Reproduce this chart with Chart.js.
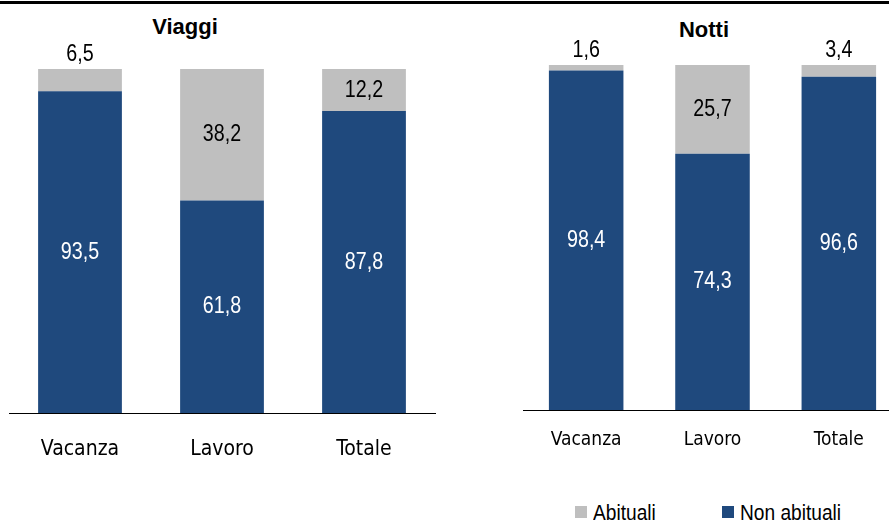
<!DOCTYPE html>
<html lang="it">
<head>
<meta charset="utf-8">
<title>Viaggi e notti</title>
<script src="https://cdn.jsdelivr.net/npm/chart.js@4"></script>
<style>
  html, body { margin: 0; padding: 0; background: #fff; overflow: hidden; }
  body { width: 889px; height: 523px; position: relative; }
  .topline { position: absolute; left: 0; top: 1px; width: 889px; height: 3px; background: #000; }
  .title {
    position: absolute; transform: translateX(-50%);
    font: bold 22px "Liberation Sans", Arial, sans-serif; line-height: 22px; color: #000;
  }
  #boxViaggi { position: absolute; left: 0; top: 0; width: 445px; height: 480px; }
  #boxNotti { position: absolute; left: 440px; top: 0; width: 470px; height: 480px; }
  #legend {
    position: absolute; left: 575px; top: 502px; height: 22px; display: flex;
    font: 22px "Liberation Sans", Arial, sans-serif; line-height: 22px; color: #000;
  }
  #legend .item { display: flex; align-items: flex-start; }
  #legend .item:first-child { width: 147px; }
  #legend .sq { width: 12px; height: 12px; margin-top: 4px; margin-right: 6px; flex: none; }
  #legend .txt { display: inline-block; transform: scaleX(0.87); transform-origin: left center; white-space: nowrap; }
</style>
</head>
<body>
<div class="topline"></div>
<div class="title" style="left:185px; top:16px;">Viaggi</div>
<div class="title" style="left:704px; top:19px;">Notti</div>
<div id="boxViaggi"><canvas id="chartViaggi"></canvas></div>
<div id="boxNotti"><canvas id="chartNotti"></canvas></div>
<div id="legend"></div>

<script>
// dati (valori percentuali)
const categories = ['Vacanza', 'Lavoro', 'Totale'];
const viaggiAbituali = [6.5, 38.2, 12.2];
const viaggiNonAbituali = [93.5, 61.8, 87.8];
const nottiAbituali = [1.6, 25.7, 3.4];
const nottiNonAbituali = [98.4, 74.3, 96.6];

const BLUE = '#1F497D';
const GREY = '#BFBFBF';
const CONDENSED = '"DejaVu Sans Condensed", "Liberation Sans Narrow", sans-serif';
const SQUEEZE = 0.82; // Arial "narrow" simulato

Chart.defaults.font.family = CONDENSED;
Chart.defaults.color = '#000';

// etichette dei valori dentro (o sopra) i segmenti
const valueLabels = {
    id: 'valueLabels',
    afterDatasetsDraw(chart) {
        const ctx = chart.ctx;
        ctx.save();
        ctx.font = '24px "Liberation Sans", Arial, sans-serif';
        ctx.textAlign = 'center';
        ctx.textBaseline = 'middle';
        ctx.scale(SQUEEZE, 1);
        chart.data.datasets.forEach((ds, i) => {
            const meta = chart.getDatasetMeta(i);
            meta.data.forEach((bar, j) => {
                const txt = ds.data[j].toFixed(1).replace('.', ',');
                const h = Math.abs(bar.base - bar.y);
                let y;
                if (h < 30) {
                    ctx.fillStyle = '#000';
                    y = Math.min(bar.y, bar.base) - 15;
                } else {
                    ctx.fillStyle = ds.labelColor;
                    y = (bar.y + bar.base) / 2;
                }
                ctx.fillText(txt, bar.x / SQUEEZE, y);
            });
        });
        ctx.restore();
    }
};

function makeChart(id, nonAbituali, abituali, opts) {
    const ctx = document.getElementById(id).getContext('2d');
    return new Chart(ctx, {
        type: 'bar',
        data: {
            labels: categories,
            datasets: [
                { label: 'Non abituali', data: nonAbituali, backgroundColor: BLUE, labelColor: '#fff',
                  categoryPercentage: 1, barPercentage: 0.59 },
                { label: 'Abituali', data: abituali, backgroundColor: GREY, labelColor: '#000',
                  categoryPercentage: 1, barPercentage: 0.59 }
            ]
        },
        options: {
            responsive: true,
            maintainAspectRatio: false,
            animation: false,
            layout: { padding: opts.padding },
            plugins: {
                legend: { display: false },
                tooltip: { enabled: false }
            },
            scales: {
                x: {
                    stacked: true,
                    grid: { display: false, drawTicks: false },
                    border: { display: true, color: '#000', width: 1 },
                    ticks: { color: '#000', font: { size: opts.tickSize }, padding: opts.tickPadding },
                    afterFit: (scale) => { scale.height = opts.axisHeight; }
                },
                y: { stacked: true, display: false, min: 0, max: 100 }
            }
        },
        plugins: [valueLabels]
    });
}

const chartViaggi = makeChart('chartViaggi', viaggiNonAbituali, viaggiAbituali, {
    padding: { left: 9, right: 10, top: 69, bottom: 0 },
    tickSize: 21, tickPadding: 24, axisHeight: 67
});

const chartNotti = makeChart('chartNotti', nottiNonAbituali, nottiAbituali, {
    padding: { left: 83, right: 8, top: 65, bottom: 0 },
    tickSize: 19, tickPadding: 19, axisHeight: 70
});

// legenda html (ordine: Abituali, Non abituali)
const legend = document.getElementById('legend');
chartNotti.data.datasets.slice().reverse().forEach(ds => {
    const item = document.createElement('div');
    item.className = 'item';
    item.innerHTML = '<span class="sq" style="background:' + ds.backgroundColor + '"></span><span class="txt">' + ds.label + '</span>';
    legend.appendChild(item);
});
</script>
</body>
</html>
